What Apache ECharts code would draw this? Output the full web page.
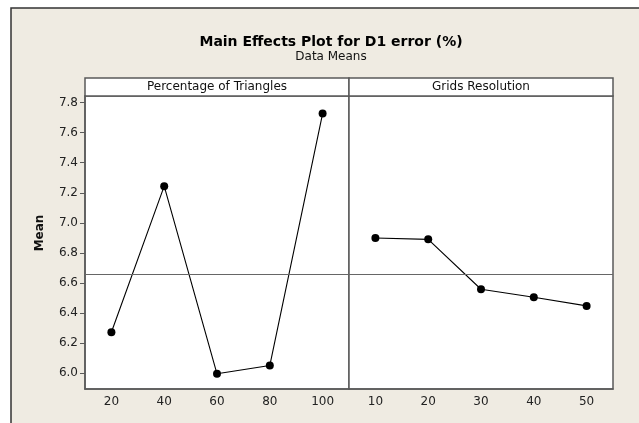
<!DOCTYPE html>
<html>
<head>
<meta charset="utf-8">
<title>Main Effects Plot for D1 error (%)</title>
<script src="https://cdn.jsdelivr.net/npm/echarts@6/dist/echarts.min.js"></script>
<style>
  html, body { margin: 0; padding: 0; background: #fff; }
  #chart { width: 639px; height: 423px; }
</style>
</head>
<body>
<div id="chart"></div>
<script>
// factor levels and data means
const triangleLevels = ['20', '40', '60', '80', '100'];
const triangleMeans = [6.272, 7.244, 5.995, 6.05, 7.727];
const gridLevels = ['10', '20', '30', '40', '50'];
const gridMeans = [6.899, 6.89, 6.558, 6.505, 6.447];
const grandMean = 6.66;
const yTicks = [6.0, 6.2, 6.4, 6.6, 6.8, 7.0, 7.2, 7.4, 7.6, 7.8];
const panelTitles = ['Percentage of Triangles', 'Grids Resolution'];

const font = 'Tahoma, "DejaVu Sans", sans-serif';
const frameColor = '#5a5a5a';
const yMin = 5.894, yMax = 7.844;

const chart = echarts.init(document.getElementById('chart'));

const panels = [
  { left: 85, width: 264 },
  { left: 349, width: 264 }
];

const grids = panels.map(p => ({
  left: p.left, top: 96, width: p.width, bottom: 34,
  show: true, backgroundColor: '#fff', borderColor: frameColor, borderWidth: 1.5
}));

const xAxes = [triangleLevels, gridLevels].map((cats, i) => ({
  type: 'category', gridIndex: i, data: cats, boundaryGap: true,
  axisLine: { show: true, lineStyle: { color: frameColor, width: 1.5 } },
  axisTick: { alignWithLabel: true, length: 5, lineStyle: { color: frameColor } },
  axisLabel: { color: '#222', fontSize: 12, fontFamily: font, margin: 7 },
  splitLine: { show: false }
}));

const yAxes = [0, 1].map(i => ({
  type: 'value', gridIndex: i, min: yMin, max: yMax,
  axisLine: { show: i === 0, lineStyle: { color: frameColor, width: 1.5 } },
  axisTick: { show: i === 0, length: 5, customValues: yTicks, lineStyle: { color: frameColor } },
  axisLabel: {
    show: i === 0, customValues: yTicks, color: '#222', fontSize: 12, fontFamily: font, margin: 7,
    formatter: v => v.toFixed(1)
  },
  splitLine: { show: false }
}));

const makeSeries = (data, i) => ({
  type: 'line', xAxisIndex: i, yAxisIndex: i, data: data,
  symbol: 'circle', symbolSize: 8,
  itemStyle: { color: '#000' },
  lineStyle: { color: '#000', width: 1.1 },
  markLine: {
    silent: true, symbol: 'none', label: { show: false },
    lineStyle: { color: '#666', width: 1, type: 'solid' },
    data: [{ yAxis: grandMean }]
  }
});

const headers = [];
panels.forEach((p, i) => {
  headers.push({
    type: 'rect', shape: { x: p.left, y: 78, width: p.width, height: 18 },
    style: { fill: '#fff', stroke: frameColor, lineWidth: 1.5 }
  });
  headers.push({
    type: 'text', x: p.left + p.width / 2, y: 87,
    style: { text: panelTitles[i], fill: '#111', font: '12px ' + font, align: 'center', verticalAlign: 'middle' }
  });
});

chart.setOption({
  animation: false,
  title: {
    text: 'Main Effects Plot for D1 error (%)',
    subtext: 'Data Means',
    left: 326, top: 30, textAlign: 'center', itemGap: 2,
    textStyle: { fontSize: 14, fontWeight: 'bold', color: '#000', fontFamily: font },
    subtextStyle: { fontSize: 12, color: '#111', fontFamily: font }
  },
  graphic: [
    {
      type: 'rect', z: -100, shape: { x: 11, y: 8, width: 700, height: 500 },
      style: { fill: '#efebe2', stroke: '#333', lineWidth: 1.5 }
    },
    {
      type: 'text', x: 40, y: 233, rotation: Math.PI / 2,
      style: { text: 'Mean', fill: '#111', font: 'bold 12px ' + font, align: 'center', verticalAlign: 'middle' }
    }
  ].concat(headers),
  grid: grids,
  xAxis: xAxes,
  yAxis: yAxes,
  series: [makeSeries(triangleMeans, 0), makeSeries(gridMeans, 1)]
});
</script>
</body>
</html>
